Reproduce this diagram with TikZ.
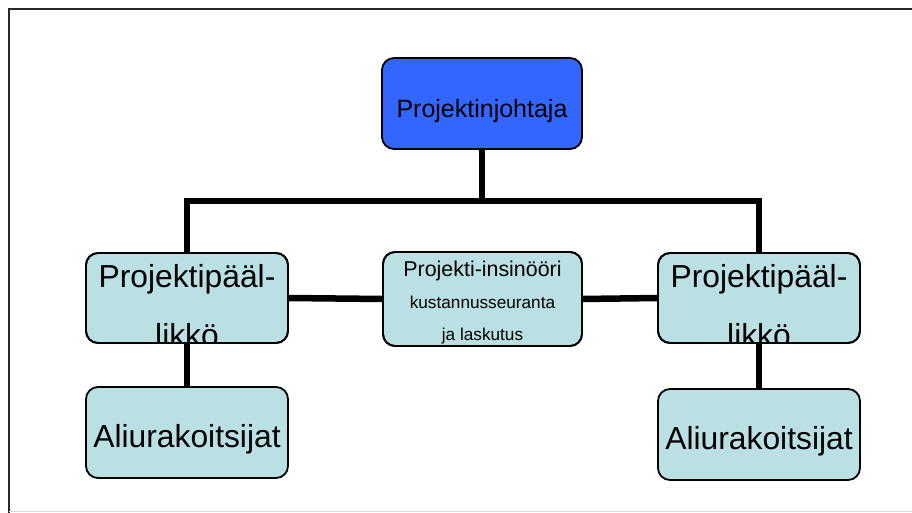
\documentclass[tikz,border=0pt]{standalone}
\usepackage{fontspec}
\setmainfont{Liberation Sans}
\begin{document}
\definecolor{headblue}{RGB}{51,102,255}
\definecolor{paleteal}{RGB}{187,224,227}
\definecolor{framegray}{RGB}{40,40,40}
\definecolor{basegray}{RGB}{215,215,215}
\begin{tikzpicture}[x=1pt,y=-1pt,
  box/.style={draw=black, line width=1.8pt, rounded corners=12pt, fill=paleteal,
    minimum width=202pt, minimum height=90pt, inner sep=0pt, outer sep=0pt},
  rim/.style={draw=black, line width=1.8pt, rounded corners=12pt},
  conn/.style={line width=6.5pt, line join=miter},
  lbl/.style={inner sep=0pt, anchor=base},
  big/.style={font=\fontsize{31.8}{36}\selectfont},
  mid/.style={font=\fontsize{25}{30}\selectfont},
  small/.style={font=\fontsize{17.2}{20}\selectfont},
  smallb/.style={font=\fontsize{21.4}{25}\selectfont}]
\useasboundingbox (0,0) rectangle (912,513);
\fill[white] (0,0) rectangle (912,513);

% page frame
\draw[framegray, line width=2pt] (8.5,513) -- (8.5,9.5) -- (912,9.5);
\draw[basegray, line width=1pt] (8.5,511.5) -- (912,511.5);

% boxes
\node[box, fill=headblue, minimum width=200pt, minimum height=91pt] (top) at (482,103.5) {};
\node[box] (pl1) at (187,298) {};
\node[box, minimum height=94pt, minimum width=199pt] (pe) at (482.5,299) {};
\node[box] (pl2) at (759,298) {};
\node[box, minimum height=91pt] (al1) at (187,432.5) {};
\node[box, minimum height=91pt] (al2) at (759,434.5) {};

% connectors
\coordinate (bus) at (482,201);
\draw[conn] (top.south) -- (bus);
\draw[conn] (pl1.north) |- (bus) -| (pl2.north);
\draw[conn] (pl1.south) -- (al1.north);
\draw[conn] (pl2.south) -- (al2.north);
\draw[conn] (pl1.east) -- (pe.west);
\draw[conn] (pe.east) -- (pl2.west);

% labels
\node[lbl, mid] (ttop) at (482,118) {Projektinjohtaja};

\begin{scope}
  \clip[rounded corners=12pt] (pl1.south west) rectangle (pl1.north east);
  \node[lbl, big] (tpl1a) at (187,287) {Projektipääl-};
  \node[lbl, big] (tpl1b) at (187,346) {likkö};
\end{scope}
\draw[rim] (pl1.south west) rectangle (pl1.north east);

\begin{scope}
  \clip[rounded corners=12pt] (pl2.south west) rectangle (pl2.north east);
  \node[lbl, big] (tpl2a) at (759,287) {Projektipääl-};
  \node[lbl, big] (tpl2b) at (759,346) {likkö};
\end{scope}
\draw[rim] (pl2.south west) rectangle (pl2.north east);

\begin{scope}
  \clip[rounded corners=12pt] (pe.south west) rectangle (pe.north east);
  \node[lbl, smallb] (tpe1) at (482.5,276) {Projekti-insinööri};
  \node[lbl, small] (tpe2) at (482.5,308) {kustannusseuranta};
  \node[lbl, small] (tpe3) at (482.5,340) {ja laskutus};
\end{scope}
\draw[rim] (pe.south west) rectangle (pe.north east);

\node[lbl, big] (tal1) at (187,447) {Aliurakoitsijat};
\node[lbl, big] (tal2) at (759,449) {Aliurakoitsijat};
\end{tikzpicture}
\end{document}
